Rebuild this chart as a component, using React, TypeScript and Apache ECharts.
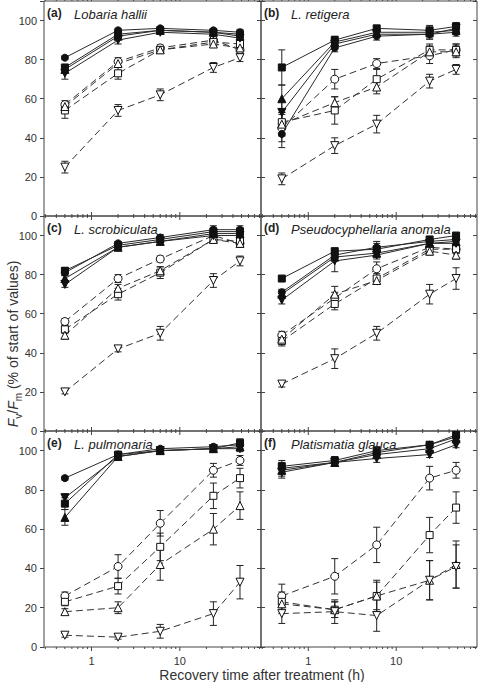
import React, { useEffect, useRef } from "react";
import * as echarts from "echarts";

// ---------- data ----------
const hours = [0.5, 2, 6, 24, 48];
const panelLetters = ["(a)", "(b)", "(c)", "(d)", "(e)", "(f)"];
const speciesNames = [
  "Lobaria hallii",
  "L. retigera",
  "L. scrobiculata",
  "Pseudocyphellaria anomala",
  "L. pulmonaria",
  "Platismatia glauca",
];
const xMajorTicks = [1, 10];
const xMinorTicks = [0.3, 0.4, 0.5, 0.6, 0.7, 0.8, 0.9, 2, 3, 4, 5, 6, 7, 8, 9, 20, 30, 40, 50, 60, 70, 80];
const xAxisTitle = "Recovery time after treatment (h)";

// series order: filled circle, filled square, filled up-triangle, filled down-triangle,
//               open circle, open square, open up-triangle, open down-triangle
const markerShapes = ["circle", "rect", "triangle", "triangle", "circle", "rect", "triangle", "triangle"];
const markerRotations = [0, 0, 0, 180, 0, 0, 0, 180];
const markerFilled = [true, true, true, true, false, false, false, false];

const meansA = [
  [81, 95, 96, 95, 94],
  [76, 93, 95, 94, 93],
  [75, 92, 95, 94, 92],
  [73, 90, 94, 93, 91],
  [57, 79, 86, 90, 85],
  [54, 73, 85, 89, 88],
  [56, 78, 85, 88, 86],
  [25, 54, 62, 76, 81],
];
const errorsA = [
  [1, 1, 1, 1, 1.5],
  [1.5, 1.5, 1, 1.5, 1.5],
  [1.5, 1.5, 1, 1.5, 1.5],
  [3, 2, 1, 1.5, 1.5],
  [2, 2, 1.5, 1.5, 2],
  [4, 3, 1.5, 1.5, 2],
  [2, 2, 1.5, 1.5, 2],
  [3, 3, 3, 2.5, 2],
];

const meansB = [
  [42, 86, 92, 93, 94],
  [76, 90, 96, 95, 97],
  [60, 89, 94, 94, 95],
  [53, 88, 93, 93, 96],
  [45, 70, 78, 82, 85],
  [48, 54, 70, 85, 85],
  [47, 58, 66, 84, 84],
  [19, 36, 47, 69, 75],
];
const errorsB = [
  [7, 2, 2, 2.5, 2],
  [9, 2, 1.5, 2.5, 2],
  [7, 2, 1.5, 2.5, 2],
  [6, 2, 1.5, 2.5, 2],
  [7, 5, 2.5, 4, 3],
  [7, 7, 5, 3, 3],
  [6, 3, 3.5, 3, 3],
  [3, 4, 4.5, 3.5, 2.5],
];

const meansC = [
  [81, 96, 99, 103, 103],
  [82, 95, 98, 102, 102],
  [78, 94, 97, 101, 101],
  [75, 94, 97, 100, 100],
  [56, 78, 88, 100, 96],
  [52, 70, 81, 98, 97],
  [49, 73, 82, 98, 96],
  [20, 42, 50, 77, 87],
];
const errorsC = [
  [1.5, 1, 1.5, 2, 2],
  [1.5, 1, 1.5, 2, 2],
  [1.5, 1, 1.5, 2, 2],
  [1.5, 1, 1.5, 2, 2],
  [1.5, 2, 1.5, 1.5, 2],
  [2, 3, 3, 1.5, 2],
  [2, 2, 2, 1.5, 2],
  [1, 1.5, 3.5, 3.5, 2.5],
];

const meansD = [
  [71, 90, 94, 97, 98],
  [78, 92, 93, 98, 100],
  [70, 89, 91, 96, 97],
  [67, 87, 90, 96, 96],
  [49, 68, 83, 94, 93],
  [46, 65, 78, 93, 93],
  [47, 70, 77, 92, 90],
  [24, 37, 50, 70, 78],
];
const errorsD = [
  [1.5, 2, 2, 1.5, 1.5],
  [1, 1.5, 4, 1.5, 1],
  [2, 2, 2, 2, 1.5],
  [2, 5.5, 2, 1.5, 1.5],
  [2, 3, 3.5, 2, 2],
  [2.5, 3, 2.5, 2, 2],
  [2, 4, 2, 2, 2],
  [1.5, 5, 3.5, 5, 5.5],
];

const meansE = [
  [86, 98, 101, 102, 103],
  [73, 98, 100, 101, 104],
  [66, 97, 100, 101, 102],
  [76, 97, 100, 101, 101],
  [26, 41, 63, 90, 95],
  [23, 31, 51, 77, 86],
  [18, 20, 42, 60, 72],
  [6, 5, 8, 17, 33],
];
const errorsE = [
  [1, 1, 1, 1, 2],
  [3, 1, 1, 1.5, 2],
  [4, 1, 1, 1, 2],
  [2, 1, 1, 1, 1.5],
  [2, 6, 6.5, 3.5, 2.5],
  [2, 4, 7, 6.5, 5],
  [1.5, 3, 8, 8, 7],
  [1, 1, 3.5, 6, 8.5],
];

const meansF = [
  [91, 94, 99, 103, 107],
  [92, 95, 100, 103, 108],
  [90, 94, 98, 101, 106],
  [89, 94, 96, 98, 103],
  [26, 36, 52, 86, 90],
  [23, 19, 26, 57, 71],
  [22, 19, 26, 34, 42],
  [17, 18, 16, 34, 41],
];
const errorsF = [
  [3, 2, 2, 1.5, 1.5],
  [3, 2, 2, 1.5, 1.5],
  [3, 2, 2, 1.5, 1.5],
  [3, 2, 2, 1.5, 1.5],
  [6, 9, 9, 6, 4],
  [5, 4, 8, 9, 8],
  [5, 4, 7, 10, 12],
  [5, 6, 8, 10, 11],
];

const panelMeans = [meansA, meansB, meansC, meansD, meansE, meansF];
const panelErrors = [errorsA, errorsB, errorsC, errorsD, errorsE, errorsF];

// ---------- layout / style ----------
const FONT = "'Liberation Sans', Arial, Helvetica, sans-serif";
const colLeft = [44, 261];
const colWidth = [217, 216];
const rowTop = [1, 216, 431];
const rowHeight = [215, 215, 216];
const Y_MAX = 110;
const X_MIN = 0.29;
const X_MAX = 83;
const AXIS_COLOR = "#444";
const TEXT_COLOR = "#333";

function buildOption() {
  const grid: any[] = [];
  const xAxis: any[] = [];
  const yAxis: any[] = [];
  const series: any[] = [];
  const graphic: any[] = [];

  panelMeans.forEach((means, i) => {
    const row = Math.floor(i / 2);
    const col = i % 2;
    const errs = panelErrors[i];
    grid.push({
      left: colLeft[col],
      top: rowTop[row],
      width: colWidth[col],
      height: rowHeight[row],
      show: true,
      borderColor: AXIS_COLOR,
      borderWidth: 1,
      backgroundColor: "transparent",
    });
    xAxis.push({
      type: "log",
      logBase: 10,
      gridIndex: i,
      min: X_MIN,
      max: X_MAX,
      axisLine: { show: false },
      axisTick: { show: false },
      splitLine: { show: false },
      axisLabel: {
        show: row === 2,
        margin: 8,
        fontSize: 11,
        fontFamily: FONT,
        color: TEXT_COLOR,
        formatter: (v: number) => {
          const l = Math.log10(v);
          if (Math.abs(l - Math.round(l)) < 1e-6 && v > 0.5 && v < 50) return String(Math.round(v));
          return "";
        },
      },
    });
    yAxis.push({
      type: "value",
      gridIndex: i,
      position: "left",
      min: 0,
      max: Y_MAX,
      interval: 20,
      axisLine: { show: false },
      axisTick: { show: true, length: 4, inside: false, lineStyle: { color: AXIS_COLOR } },
      splitLine: { show: false },
      axisLabel: {
        show: col === 0,
        margin: 7,
        fontSize: 11,
        fontFamily: FONT,
        color: TEXT_COLOR,
        formatter: (v: number) => (v > 100 ? "" : String(v)),
      },
    });
    yAxis.push({
      type: "value",
      gridIndex: i,
      position: "right",
      min: 0,
      max: Y_MAX,
      interval: 20,
      axisLine: { show: false },
      axisTick: { show: true, length: 4, inside: col === 1, lineStyle: { color: AXIS_COLOR } },
      splitLine: { show: false },
      axisLabel: { show: false },
    });

    // x ticks (major + minor) on bottom and top edges
    series.push({
      type: "custom",
      xAxisIndex: i,
      yAxisIndex: 2 * i,
      clip: false,
      silent: true,
      z: 1,
      data: [...xMajorTicks.map((v) => [v, 1]), ...xMinorTicks.map((v) => [v, 0])],
      renderItem: (_p: any, api: any) => {
        const v = api.value(0);
        const len = api.value(1) === 1 ? 4 : 2;
        const b = api.coord([v, 0]);
        const t = api.coord([v, Y_MAX]);
        return {
          type: "group",
          children: [
            { type: "line", shape: { x1: b[0], y1: b[1], x2: b[0], y2: b[1] + len }, style: { stroke: AXIS_COLOR, lineWidth: 1 } },
            { type: "line", shape: { x1: t[0], y1: t[1], x2: t[0], y2: t[1] - len }, style: { stroke: AXIS_COLOR, lineWidth: 1 } },
          ],
        };
      },
    });

    // error bars
    const errData: number[][] = [];
    means.forEach((m, s) => {
      m.forEach((val, k) => errData.push([hours[k], val, errs[s][k]]));
    });
    series.push({
      type: "custom",
      xAxisIndex: i,
      yAxisIndex: 2 * i,
      clip: false,
      silent: true,
      z: 2,
      data: errData,
      renderItem: (_p: any, api: any) => {
        const x = api.value(0);
        const y = api.value(1);
        const e = api.value(2);
        const top = api.coord([x, y + e]);
        const bot = api.coord([x, y - e]);
        const w = 3.5;
        const st = { stroke: "#222", lineWidth: 1 };
        return {
          type: "group",
          children: [
            { type: "line", shape: { x1: top[0], y1: top[1], x2: bot[0], y2: bot[1] }, style: st },
            { type: "line", shape: { x1: top[0] - w, y1: top[1], x2: top[0] + w, y2: top[1] }, style: st },
            { type: "line", shape: { x1: bot[0] - w, y1: bot[1], x2: bot[0] + w, y2: bot[1] }, style: st },
          ],
        };
      },
    });

    // data series
    means.forEach((m, s) => {
      const filled = markerFilled[s];
      const shape = markerShapes[s];
      const size = shape === "triangle" ? 8 : shape === "rect" ? 7 : filled ? 7 : 8;
      series.push({
        type: "line",
        xAxisIndex: i,
        yAxisIndex: 2 * i,
        data: m.map((v, k) => [hours[k], v]),
        symbol: shape,
        symbolSize: size,
        symbolRotate: markerRotations[s],
        showSymbol: true,
        z: filled ? 5 : 4,
        silent: true,
        lineStyle: {
          color: filled ? "#2a2a2a" : "#333",
          width: 1,
          type: filled ? "solid" : [7, 4],
        },
        itemStyle: {
          color: filled ? "#111" : "#fff",
          borderColor: "#111",
          borderWidth: 1,
        },
      });
    });

    // panel labels
    graphic.push({
      type: "text",
      x: colLeft[col] + 3,
      y: rowTop[row] + 12,
      style: {
        text: panelLetters[i],
        fontSize: 12,
        fontWeight: "bold",
        fontFamily: FONT,
        fill: "#222",
        textVerticalAlign: "middle",
      },
      z: 10,
    });
    graphic.push({
      type: "text",
      x: colLeft[col] + 30,
      y: rowTop[row] + 13,
      style: {
        text: speciesNames[i],
        fontSize: 13,
        fontStyle: "italic",
        fontFamily: FONT,
        fill: "#222",
        textVerticalAlign: "middle",
      },
      z: 10,
    });
  });

  // axis titles
  graphic.push({
    type: "text",
    x: 262,
    y: 675,
    style: {
      text: xAxisTitle,
      fontSize: 14,
      fontFamily: FONT,
      fill: TEXT_COLOR,
      textAlign: "center",
      textVerticalAlign: "middle",
    },
  });
  graphic.push({
    type: "text",
    x: 13,
    y: 344,
    rotation: Math.PI / 2,
    style: {
      text: "{i|F}{s|v}{n|/}{i|F}{s|m}{n| (% of start of values)}",
      textAlign: "center",
      textVerticalAlign: "middle",
      fill: TEXT_COLOR,
      rich: {
        i: { fontSize: 14, fontStyle: "italic", fontFamily: FONT, fill: TEXT_COLOR, lineHeight: 20, verticalAlign: "middle" },
        n: { fontSize: 14, fontFamily: FONT, fill: TEXT_COLOR, lineHeight: 20, verticalAlign: "middle" },
        s: { fontSize: 10, fontFamily: FONT, fill: TEXT_COLOR, lineHeight: 10, verticalAlign: "bottom" },
      },
    },
  });

  return {
    animation: false,
    backgroundColor: "#fff",
    grid,
    xAxis,
    yAxis,
    series,
    graphic,
  };
}

export default function App() {
  const ref = useRef<HTMLDivElement>(null);
  useEffect(() => {
    if (!ref.current) return;
    const chart = echarts.init(ref.current, null, { renderer: "svg", width: 480, height: 682 });
    chart.setOption(buildOption() as any);
    return () => chart.dispose();
  }, []);
  return <div ref={ref} style={{ position: "fixed", left: 0, top: 0, width: 480, height: 682 }} />;
}
